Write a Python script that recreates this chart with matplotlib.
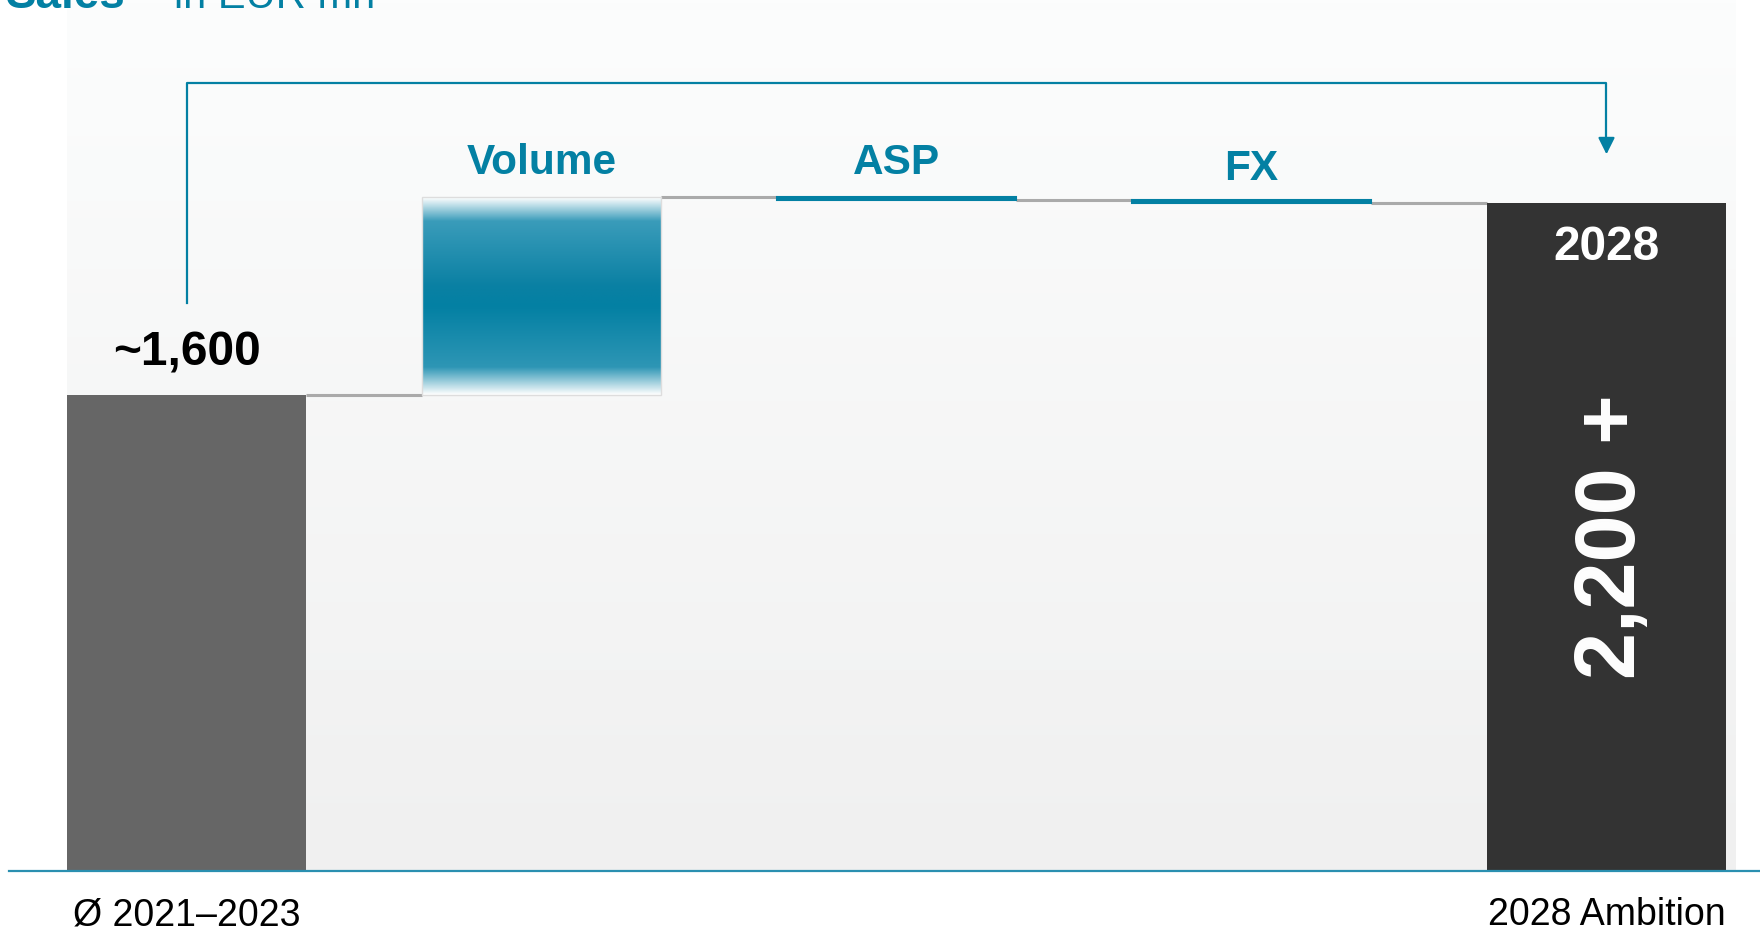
import numpy as np
import matplotlib.pyplot as plt
from matplotlib.colors import LinearSegmentedColormap

plt.rcParams['font.family'] = ['Liberation Sans', 'DejaVu Sans']

# data (EUR mn)
labels = ["Ø 2021–2023", "Volume", "ASP", "FX", "2028 Ambition"]
start_value = 1600
deltas = [665, -8, -10]          # Volume, ASP, FX
end_value = 2245
start_text = "~1,600"
end_text = "2,200 +"
end_year = "2028"
bracket = [1910, 2650, 2400]     # start level, top level, arrow tip level
label_gap = [17, 17, 14]         # label offset above each step (points)

teal = "#0380A3"
width = 0.673

fig = plt.figure(figsize=(17.6, 9.31), dpi=100)
ax = fig.add_axes([0, 0, 1, 1])
ax.set_xlim(-0.5254, 4.4324)
ax.set_ylim(-201.7, 2928)
ax.axis('off')

# background panel gradient
grad = np.linspace(0, 1, 256).reshape(-1, 1)
bg = LinearSegmentedColormap.from_list("bg", ["#f0f0f0", "#fcfdfd"])
ax.imshow(grad, cmap=bg, origin='lower', aspect='auto',
          extent=[-width / 2, 4 + width / 2 + 0.028, 0, 2928], zorder=0)

# first bar
ax.bar(0, start_value, width=width, color="#666666", zorder=2)

# steps
level = start_value
for i, d in enumerate(deltas, start=1):
    lo, hi = min(level, level + d), max(level, level + d)
    # connector from previous bar
    ax.plot([i - 1 + width / 2, i - width / 2], [level, level],
            color="#aaaaaa", lw=2.2, zorder=1, solid_capstyle='butt')
    if i == 1:
        # gradient bar for volume
        cm = LinearSegmentedColormap.from_list(
            "vol", [(0, "#ffffff"), (0.12, "#3a9cba"), (0.45, "#0a80a3"),
                    (0.55, "#0380a3"), (0.86, "#2e96b5"), (1, "#ffffff")])
        ax.imshow(grad[::-1], cmap=cm, origin='lower', aspect='auto',
                  extent=[i - width / 2, i + width / 2, lo, hi], zorder=2)
        ax.bar(i, hi - lo, bottom=lo, width=width, fill=False,
               edgecolor="#dddddd", lw=1, zorder=3)
    else:
        ax.bar(i, hi - lo, bottom=lo, width=width, color=teal,
               edgecolor=teal, lw=1.5, zorder=2)
    ax.annotate(labels[i], (i, hi), xytext=(0, label_gap[i - 1]),
                textcoords='offset points', ha='center', va='baseline',
                fontsize=30.5, fontweight='bold', color=teal)
    level += d

# last connector and end bar
ax.plot([3 + width / 2, 4 - width / 2], [level, level],
        color="#aaaaaa", lw=2.2, zorder=1, solid_capstyle='butt')
ax.bar(4, end_value, width=width, color="#333333", zorder=2)

# value labels
ax.annotate(start_text, (0, start_value), xytext=(0, 30),
            textcoords='offset points', ha='center', va='center',
            fontsize=34.5, fontweight='bold', color='black')
ax.annotate(end_year, (4, end_value), xytext=(0, -32),
            textcoords='offset points', ha='center', va='center',
            fontsize=34.5, fontweight='bold', color='white')
ax.annotate(end_text, (4, end_value / 2), xytext=(5, 0),
            textcoords='offset points', rotation=90, ha='center', va='center',
            fontsize=61, fontweight='bold', color='white')

# category labels
for i in (0, 4):
    ax.annotate(labels[i], (i, 0), xytext=(0, -32), textcoords='offset points',
                ha='center', va='center', fontsize=27, color='black')

# baseline
ax.axhline(0, xmin=9 / 1760, xmax=1, color="#2a8fb0", lw=1.6, zorder=4)

# bracket arrow
ax.plot([0, 0, 4, 4], [bracket[0], bracket[1], bracket[1], bracket[2] + 60],
        color=teal, lw=1.6, zorder=3)
ax.annotate("", xy=(4, bracket[2]), xytext=(4, bracket[2] + 70),
            arrowprops=dict(arrowstyle="-|>,head_length=1.0,head_width=0.5",
                            color=teal, lw=1.6))

# title, mostly cut by the top edge
fig.text(6 / 1760, 1 - 8 / 931, "Sales", fontsize=33, fontweight='bold',
         color=teal, va='baseline')
fig.text(174 / 1760, 1 - 8 / 931, "in EUR mn", fontsize=30, color=teal,
         va='baseline')

fig.savefig("out.png", dpi=100)
